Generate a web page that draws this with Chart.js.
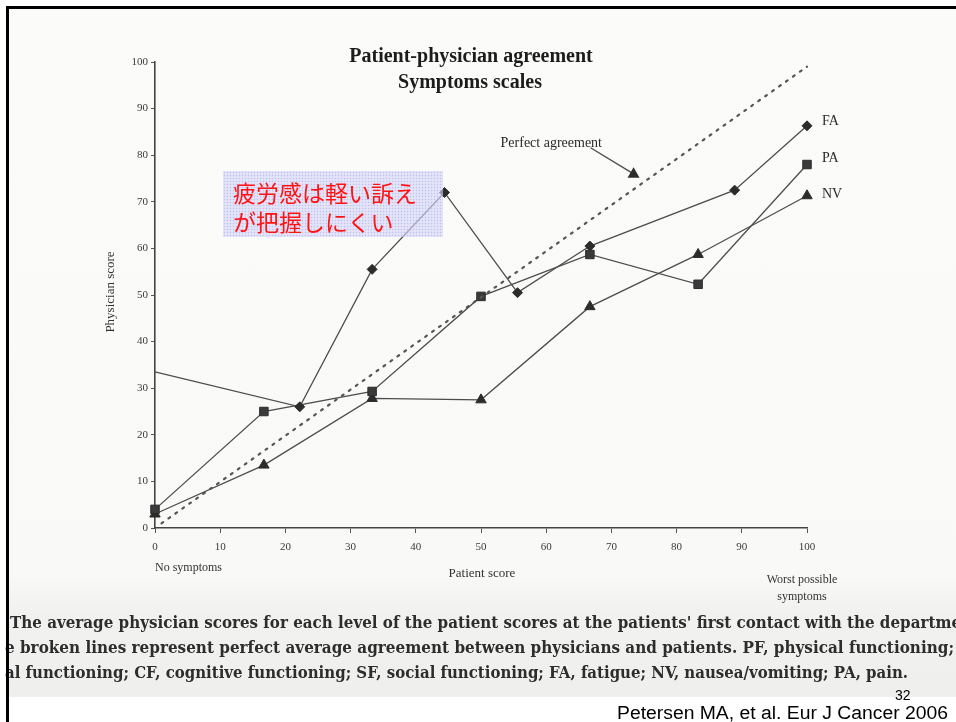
<!DOCTYPE html>
<html>
<head>
<meta charset="utf-8">
<script src="https://cdn.jsdelivr.net/npm/chart.js@4/dist/chart.umd.min.js"></script>
<style>
  html, body { margin: 0; padding: 0; background: #ffffff; }
  #wrap { position: relative; width: 956px; height: 722px; overflow: hidden; }
  #paper {
    position: absolute; left: 9px; top: 9px; width: 947px; height: 688px;
    background: linear-gradient(#fbfbfa 0%, #f9f9f8 82%, #f1f1f0 88%, #efefee 100%);
  }
  #chart { position: absolute; left: 0; top: 0; }
  #note {
    position: absolute; left: 223px; top: 171px; width: 210px; height: 59px;
    padding: 7px 0 0 10px;
    background-color: rgba(214, 214, 248, 0.62);
    background-image: radial-gradient(rgba(165, 165, 232, 0.55) 0.7px, transparent 1.1px);
    background-size: 3px 3px;
    font-family: "Noto Sans CJK JP", sans-serif; font-size: 23px; line-height: 29px;
    color: #ff1414; white-space: nowrap;
  }
  #frameL { position: absolute; left: 6px; top: 6px; width: 3px; height: 716px; background: #000; }
  #frameT { position: absolute; left: 6px; top: 6px; width: 950px; height: 3px; background: #000; }
</style>
</head>
<body>
<div id="wrap">
  <div id="paper"></div>
  <canvas id="chart" width="956" height="722"></canvas>
  <div id="note">疲労感は軽い訴え<br>が把握しにくい</div>
  <div id="frameL"></div>
  <div id="frameT"></div>
</div>
<script>
// Patient score levels and mean physician scores per symptom scale
const patientFA = [0, 22.2, 33.3, 44.4, 55.6, 66.7, 88.9, 100];
const physicianFA = [33.5, 26, 55.5, 72, 50.5, 60.5, 72.5, 86.3];
const markerFA = [0, 5, 5, 5, 5, 5, 5, 5];

const patientPA = [0, 16.7, 33.3, 50, 66.7, 83.3, 100];
const physicianPA = [4, 25, 29.3, 49.7, 58.7, 52.3, 78];

const patientNV = [0, 16.7, 33.3, 50, 66.7, 83.3, 100];
const physicianNV = [3, 13.5, 27.8, 27.5, 47.5, 58.7, 71.3];

// Perfect agreement diagonal (physician = patient)
const agreementPatient = [1, 100];
const agreementPhysician = [1, 99];

const tickValues = [0, 10, 20, 30, 40, 50, 60, 70, 80, 90, 100];
const seriesNames = ['FA', 'PA', 'NV'];
const titleLines = ['Patient-physician agreement', 'Symptoms scales'];
const captionLines = [
  "The average physician scores for each level of the patient scores at the patients' first contact with the departme",
  "e broken lines represent perfect average agreement between physicians and patients. PF, physical functioning;",
  "al functioning; CF, cognitive functioning; SF, social functioning; FA, fatigue; NV, nausea/vomiting; PA, pain."
];

const pts = (xs, ys) => xs.map((v, i) => ({ x: v, y: ys[i] }));

const ink = '#2c2c2c';
const lineInk = '#4d4d4d';

const decorations = {
  id: 'decorations',
  afterDraw(chart) {
    const { ctx, scales: { x, y } } = chart;
    ctx.save();

    // chart title
    ctx.fillStyle = '#1c1c1c';
    ctx.textAlign = 'center';
    ctx.textBaseline = 'alphabetic';
    ctx.font = 'bold 20px "Liberation Serif"';
    ctx.fillText(titleLines[0], 471, 62);
    ctx.fillText(titleLines[1], 470, 88);

    // series names beside the last points
    ctx.font = '14px "Liberation Serif"';
    ctx.textAlign = 'left';
    ctx.fillStyle = '#2a2a2a';
    const lastVals = [physicianFA[physicianFA.length - 1], physicianPA[physicianPA.length - 1], physicianNV[physicianNV.length - 1]];
    const nudge = [-1, -3, 2];
    seriesNames.forEach((n, i) => {
      ctx.fillText(n, x.getPixelForValue(100) + 15, y.getPixelForValue(lastVals[i]) + nudge[i]);
    });

    // "Perfect agreement" pointer
    ctx.font = '14px "Liberation Serif"';
    ctx.fillText('Perfect agreement', x.getPixelForValue(53), y.getPixelForValue(81.8));
    const ax0 = x.getPixelForValue(66.8), ay0 = y.getPixelForValue(81.6);
    const ax1 = x.getPixelForValue(73.4), ay1 = y.getPixelForValue(76);
    ctx.strokeStyle = lineInk;
    ctx.lineWidth = 1.4;
    ctx.beginPath(); ctx.moveTo(ax0, ay0); ctx.lineTo(ax1, ay1); ctx.stroke();
    ctx.fillStyle = ink;
    ctx.beginPath();
    ctx.moveTo(ax1, ay1 - 6.5);
    ctx.lineTo(ax1 + 6, ay1 + 4);
    ctx.lineTo(ax1 - 6, ay1 + 4);
    ctx.closePath(); ctx.fill();

    // axis titles and end notes
    ctx.fillStyle = '#333';
    ctx.font = '13px "Liberation Serif"';
    ctx.textAlign = 'center';
    ctx.fillText('Patient score', 482, 577);
    ctx.font = '12px "Liberation Serif"';
    ctx.textAlign = 'left';
    ctx.fillText('No symptoms', 155, 571);
    ctx.textAlign = 'center';
    ctx.fillText('Worst possible', 802, 583);
    ctx.fillText('symptoms', 802, 600);

    ctx.save();
    ctx.translate(114, 292);
    ctx.rotate(-Math.PI / 2);
    ctx.font = '13px "Liberation Serif"';
    ctx.fillText('Physician score', 0, 0);
    ctx.restore();

    // figure caption, fitted to its printed line widths
    const fit = (text, font, left, right, base) => {
      ctx.font = font;
      const w = ctx.measureText(text).width;
      ctx.save();
      ctx.translate(left, base);
      ctx.scale((right - left) / w, 1);
      ctx.textAlign = 'left';
      ctx.fillText(text, 0, 0);
      ctx.restore();
    };
    ctx.fillStyle = '#2d2d2d';
    const capFont = 'bold 16.5px "DejaVu Serif"';
    fit(captionLines[0], capFont, 10, 961, 628);
    fit(captionLines[1], capFont, 5, 954, 653);
    fit(captionLines[2], capFont, 5, 908, 678);

    // slide number and reference
    ctx.fillStyle = '#000';
    ctx.font = '14px "Liberation Sans"';
    ctx.textAlign = 'left';
    ctx.fillText('32', 895, 700);
    fit('Petersen MA, et al. Eur J Cancer 2006', '18px "Liberation Sans"', 617, 948, 719);

    ctx.restore();
  }
};

new Chart(document.getElementById('chart'), {
  type: 'scatter',
  data: {
    datasets: [
      {
        label: 'Perfect agreement',
        data: pts(agreementPatient, agreementPhysician),
        showLine: true, pointRadius: 0,
        borderColor: '#555', borderWidth: 2.2,
        borderDash: [2, 6.5], borderCapStyle: 'round',
        clip: false
      },
      {
        label: 'FA',
        data: pts(patientFA, physicianFA),
        showLine: true, tension: 0,
        borderColor: lineInk, borderWidth: 1.3,
        pointStyle: 'rectRot', pointRadius: markerFA,
        pointBackgroundColor: ink, pointBorderColor: ink, pointBorderWidth: 1,
        clip: false
      },
      {
        label: 'PA',
        data: pts(patientPA, physicianPA),
        showLine: true, tension: 0,
        borderColor: lineInk, borderWidth: 1.3,
        pointStyle: 'rect', pointRadius: 6,
        pointBackgroundColor: '#3a3a3a', pointBorderColor: ink, pointBorderWidth: 1,
        clip: false
      },
      {
        label: 'NV',
        data: pts(patientNV, physicianNV),
        showLine: true, tension: 0,
        borderColor: lineInk, borderWidth: 1.3,
        pointStyle: 'triangle', pointRadius: 6,
        pointBackgroundColor: ink, pointBorderColor: ink, pointBorderWidth: 1,
        clip: false
      }
    ]
  },
  options: {
    responsive: false,
    animation: false,
    events: [],
    layout: { padding: { top: 62, right: 149, left: 0, bottom: 0 } },
    plugins: { legend: { display: false }, title: { display: false }, tooltip: { enabled: false } },
    scales: {
      x: {
        type: 'linear', min: 0, max: 100,
        afterBuildTicks: s => { s.ticks = tickValues.map(v => ({ value: v })); },
        ticks: { font: { family: 'Liberation Serif', size: 11 }, color: '#3a3a3a', padding: 8, maxRotation: 0, autoSkip: false },
        grid: { drawOnChartArea: false, tickLength: 5, color: '#555', lineWidth: 1 },
        border: { color: '#444', width: 1.6 },
        afterFit: s => { s.height = 722 - 528; }
      },
      y: {
        type: 'linear', min: 0, max: 100,
        afterBuildTicks: s => { s.ticks = tickValues.map(v => ({ value: v })); },
        ticks: { font: { family: 'Liberation Serif', size: 11 }, color: '#3a3a3a', padding: 3, autoSkip: false },
        grid: { drawOnChartArea: false, tickLength: 4, color: '#555', lineWidth: 1 },
        border: { color: '#444', width: 1.6 },
        afterFit: s => { s.width = 155; }
      }
    }
  },
  plugins: [decorations]
});
</script>
</body>
</html>
